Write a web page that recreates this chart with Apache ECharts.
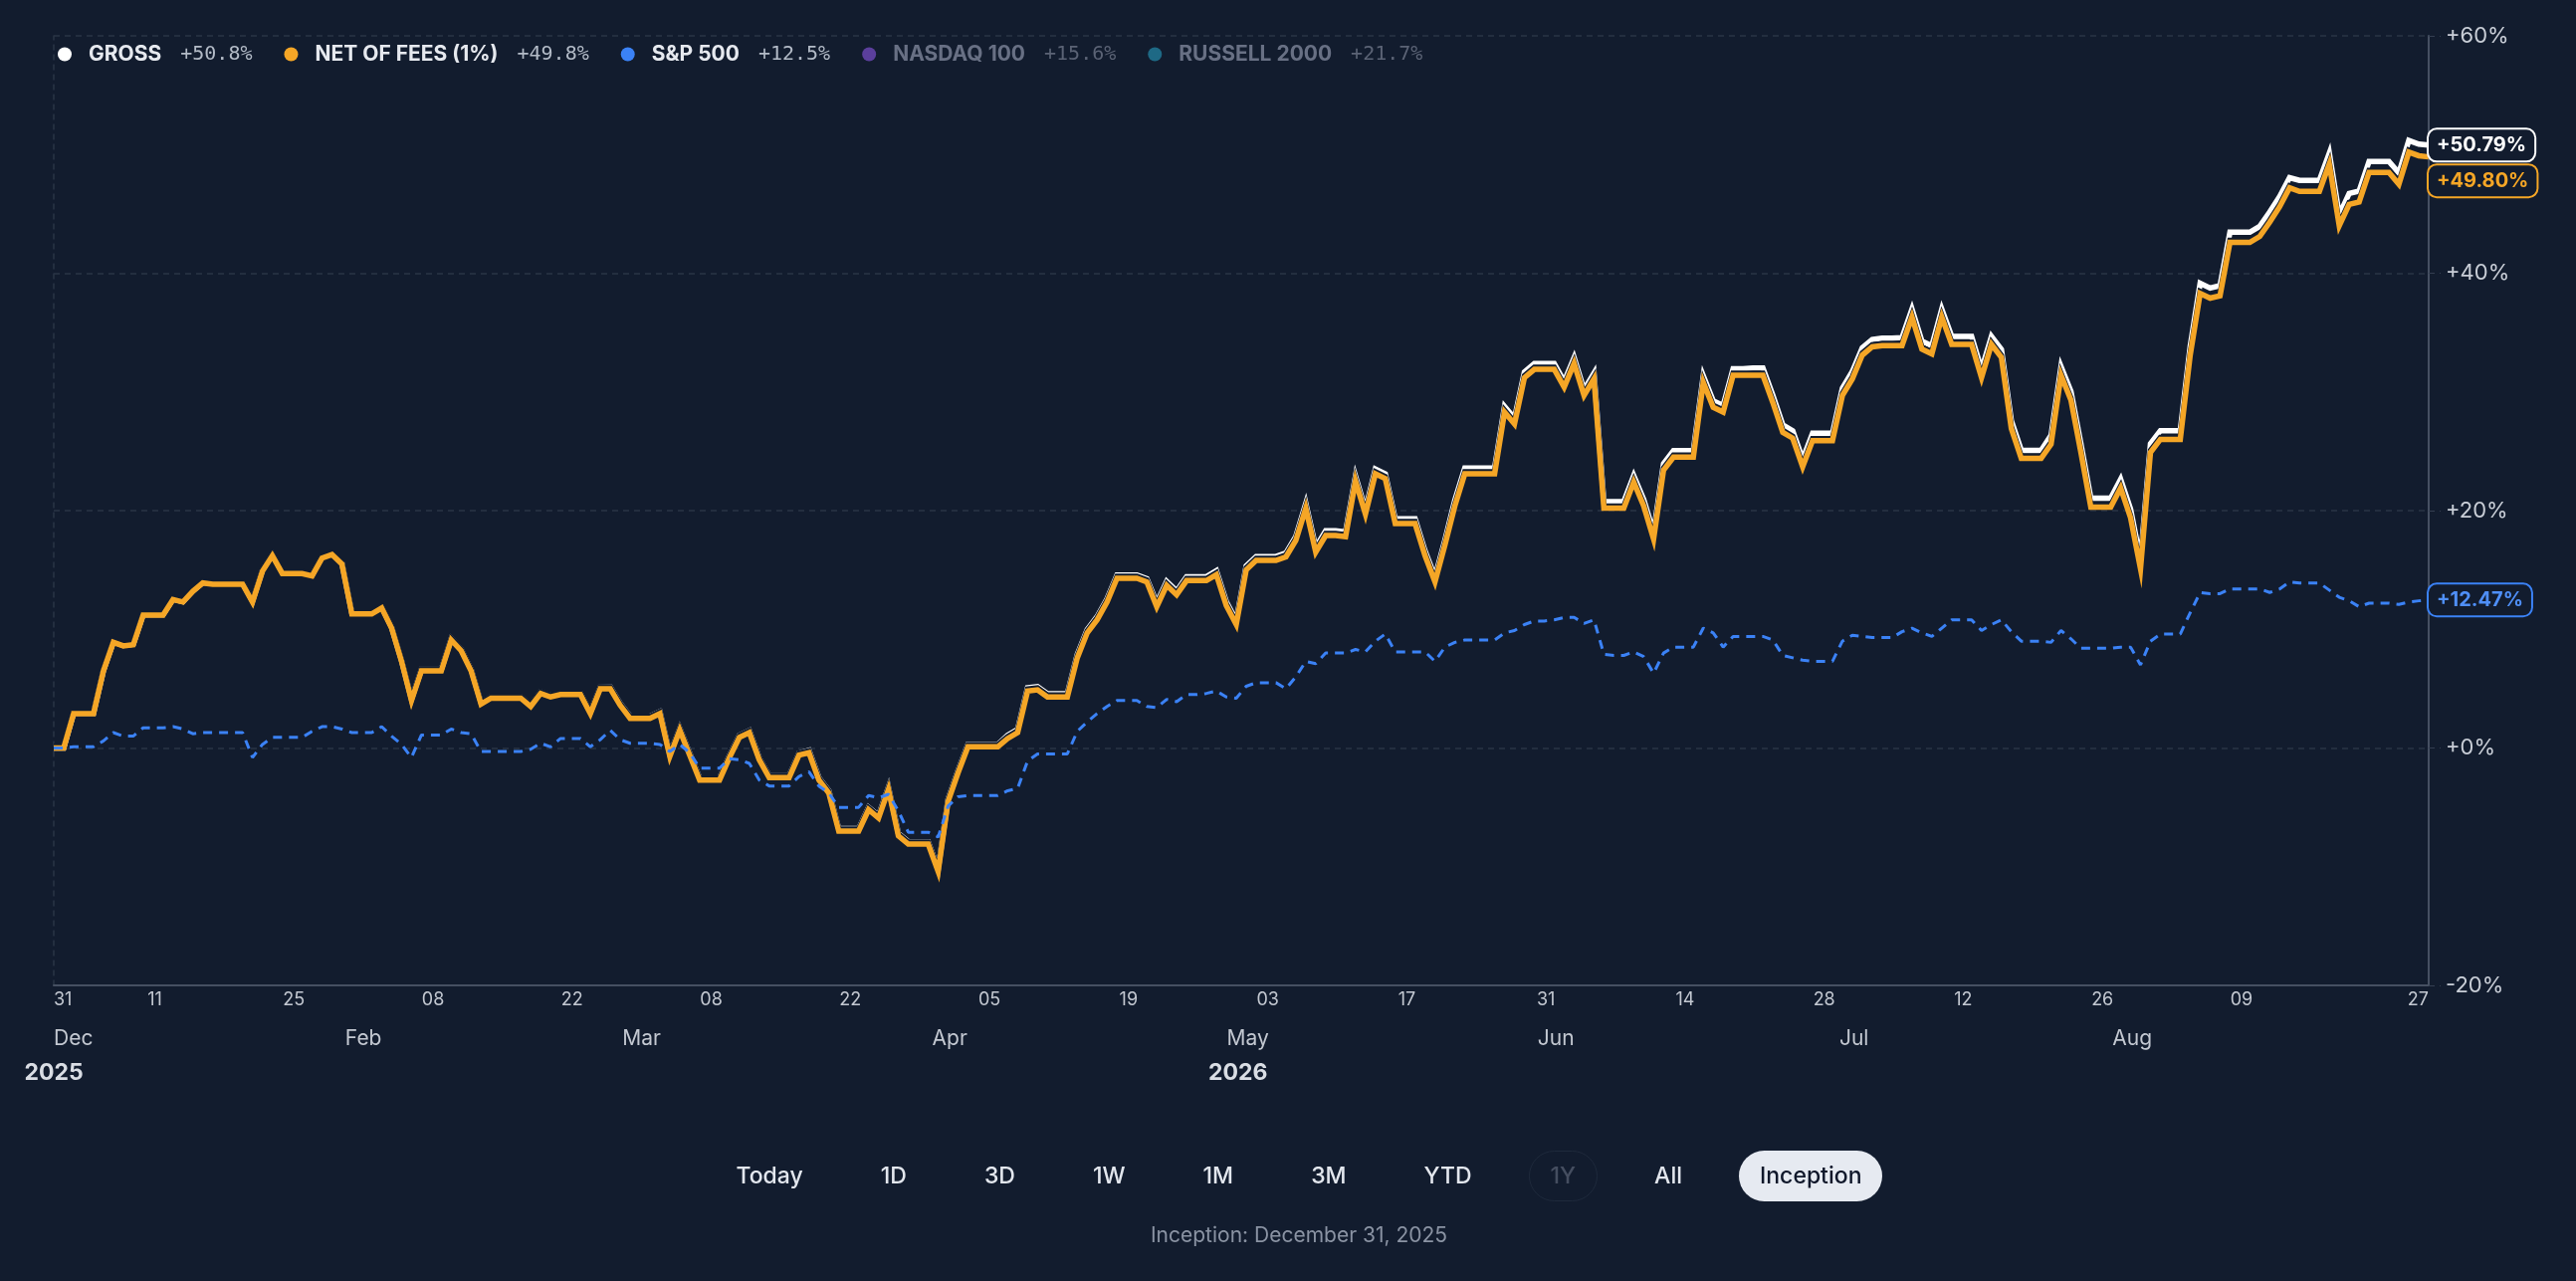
<!DOCTYPE html>
<html>
<head>
<meta charset="utf-8">
<script src="https://cdn.jsdelivr.net/npm/echarts/dist/echarts.min.js"></script>
<style>
html, body { margin: 0; padding: 0; background: #121c2e; }
#container { width: 2588px; height: 1287px; }
#ranges {
    position: absolute; top: 1156px; left: 0; width: 2610px;
    display: flex; justify-content: center; gap: 36px;
    font-family: Inter, "Noto Sans", sans-serif;
}
.btn {
    height: 51px; line-height: 51px; padding: 0 21px; border-radius: 26px;
    font-size: 23px; font-weight: 500; color: #e3e7ee; box-sizing: border-box;
}
.btn.off { color: #454e60; border: 1.5px solid #1f2a3c; line-height: 48px; }
.btn.on { background: #e6eaf1; color: #0f172a; }
#caption {
    position: absolute; top: 1228px; left: 0; width: 2610px; text-align: center;
    font-family: Inter, "Noto Sans", sans-serif; font-size: 21px; color: #8a93a3;
}
</style>
</head>
<body>
<div id="container"></div>
<div id="ranges"></div>
<div id="caption">Inception: December 31, 2025</div>
<script>
// daily values from 2025-12-31 (weekends / holidays carry the last close)
var gross = [
    0, 0, 2.94, 2.94, 2.94, 6.54, 8.94, 8.64, 8.74, 11.24,
    11.24, 11.24, 12.54, 12.34, 13.24, 13.94, 13.88, 13.88, 13.88, 13.88,
    12.38, 14.98, 16.28, 14.78, 14.78, 14.78, 14.58, 16.08, 16.38, 15.58,
    11.38, 11.38, 11.38, 11.88, 10.18, 7.38, 4.12, 6.62, 6.62, 6.62,
    9.22, 8.32, 6.62, 3.82, 4.32, 4.32, 4.32, 4.32, 3.62, 4.72,
    4.42, 4.62, 4.62, 4.62, 3.02, 5.12, 5.16, 3.76, 2.66, 2.66,
    2.66, 3.06, -0.54, 1.66, -0.44, -2.54, -2.54, -2.54, -0.64, 1.06,
    1.46, -0.84, -2.34, -2.34, -2.34, -0.44, -0.2, -2.5, -3.6, -6.8,
    -6.8, -6.8, -5.0, -5.7, -3.3, -7.2, -7.9, -7.9, -7.9, -10.2,
    -4.3, -1.9, 0.3, 0.3, 0.3, 0.3, 1.07, 1.57, 5.07, 5.17,
    4.57, 4.57, 4.57, 7.87, 9.97, 11.07, 12.57, 14.57, 14.57, 14.57,
    14.27, 12.23, 14.03, 13.23, 14.43, 14.43, 14.43, 14.93, 12.33, 10.73,
    15.33, 16.13, 16.13, 16.13, 16.43, 17.83, 20.6, 16.9, 18.3, 18.3,
    18.2, 22.9, 20.1, 23.5, 23.1, 19.3, 19.3, 19.3, 16.6, 14.4,
    17.5, 20.88, 23.58, 23.58, 23.58, 23.58, 28.78, 27.78, 31.68, 32.38,
    32.38, 32.38, 30.88, 32.88, 30.18, 31.58, 20.75, 20.75, 20.75, 22.95,
    20.95, 18.15, 23.95, 25.05, 25.05, 25.05, 31.35, 29.25, 28.85, 31.95,
    31.95, 32.02, 32.02, 29.72, 27.22, 26.72, 24.32, 26.52, 26.52, 26.52,
    30.32, 31.72, 33.72, 34.42, 34.52, 34.52, 34.58, 36.98, 34.28, 33.88,
    36.98, 34.68, 34.68, 34.68, 31.88, 34.68, 33.58, 27.58, 25.08, 25.08,
    25.08, 26.34, 32.14, 30.04, 25.64, 21.04, 21.04, 21.04, 22.64, 20.14,
    15.84, 25.64, 26.74, 26.74, 26.74, 33.84, 39.15, 38.75, 38.95, 43.45,
    43.45, 43.45, 43.95, 45.15, 46.45, 48.05, 47.82, 47.82, 47.82, 50.12,
    44.92, 46.72, 46.92, 49.42, 49.42, 49.42, 48.45, 51.18, 50.88, 50.79
];
var net = [
    0, 0, 2.9, 2.9, 2.9, 6.5, 8.9, 8.6, 8.7, 11.2,
    11.2, 11.2, 12.5, 12.3, 13.2, 13.9, 13.8, 13.8, 13.8, 13.8,
    12.3, 14.9, 16.2, 14.7, 14.7, 14.7, 14.5, 16.0, 16.3, 15.5,
    11.3, 11.3, 11.3, 11.8, 10.1, 7.3, 4.0, 6.5, 6.5, 6.5,
    9.1, 8.2, 6.5, 3.7, 4.2, 4.2, 4.2, 4.2, 3.5, 4.6,
    4.3, 4.5, 4.5, 4.5, 2.9, 5.0, 5.0, 3.6, 2.5, 2.5,
    2.5, 2.9, -0.7, 1.5, -0.6, -2.7, -2.7, -2.7, -0.8, 0.9,
    1.3, -1.0, -2.5, -2.5, -2.5, -0.6, -0.4, -2.7, -3.8, -7.0,
    -7.0, -7.0, -5.2, -5.9, -3.5, -7.4, -8.1, -8.1, -8.1, -10.4,
    -4.5, -2.1, 0.1, 0.1, 0.1, 0.1, 0.8, 1.3, 4.8, 4.9,
    4.3, 4.3, 4.3, 7.6, 9.7, 10.8, 12.3, 14.3, 14.3, 14.3,
    14.0, 11.9, 13.7, 12.9, 14.1, 14.1, 14.1, 14.6, 12.0, 10.4,
    15.0, 15.8, 15.8, 15.8, 16.1, 17.5, 20.2, 16.5, 17.9, 17.9,
    17.8, 22.5, 19.7, 23.1, 22.7, 18.9, 18.9, 18.9, 16.2, 14.0,
    17.1, 20.4, 23.1, 23.1, 23.1, 23.1, 28.3, 27.3, 31.2, 31.9,
    31.9, 31.9, 30.4, 32.4, 29.7, 31.1, 20.2, 20.2, 20.2, 22.4,
    20.4, 17.6, 23.4, 24.5, 24.5, 24.5, 30.8, 28.7, 28.3, 31.4,
    31.4, 31.4, 31.4, 29.1, 26.6, 26.1, 23.7, 25.9, 25.9, 25.9,
    29.7, 31.1, 33.1, 33.8, 33.9, 33.9, 33.9, 36.3, 33.6, 33.2,
    36.3, 34.0, 34.0, 34.0, 31.2, 34.0, 32.9, 26.9, 24.4, 24.4,
    24.4, 25.6, 31.4, 29.3, 24.9, 20.3, 20.3, 20.3, 21.9, 19.4,
    15.1, 24.9, 26.0, 26.0, 26.0, 33.1, 38.3, 37.9, 38.1, 42.6,
    42.6, 42.6, 43.1, 44.3, 45.6, 47.2, 46.9, 46.9, 46.9, 49.2,
    44.0, 45.8, 46.0, 48.5, 48.5, 48.5, 47.5, 50.2, 49.9, 49.80
];
var sp500 = [
    0, 0, 0.1, 0.1, 0.1, 0.6, 1.3, 1.0, 1.0, 1.7,
    1.7, 1.7, 1.8, 1.6, 1.2, 1.3, 1.3, 1.3, 1.3, 1.3,
    -0.8, 0.3, 0.9, 0.9, 0.9, 0.9, 1.4, 1.8, 1.8, 1.6,
    1.3, 1.3, 1.3, 1.8, 1.0, 0.3, -0.8, 1.1, 1.1, 1.1,
    1.6, 1.3, 1.2, -0.3, -0.3, -0.3, -0.3, -0.3, -0.1, 0.4,
    0.1, 0.8, 0.8, 0.8, 0.1, 0.7, 1.5, 0.7, 0.4, 0.4,
    0.4, 0.3, -0.3, 0.3, -0.4, -1.7, -1.7, -1.7, -0.9, -1.0,
    -1.3, -2.7, -3.2, -3.2, -3.2, -2.4, -2.0, -3.2, -3.8, -5.0,
    -5.0, -5.0, -4.0, -4.2, -3.9, -5.3, -7.1, -7.1, -7.1, -7.5,
    -4.9, -4.1, -4.0, -4.0, -4.0, -4.0, -3.6, -3.4, -1.1, -0.5,
    -0.5, -0.5, -0.5, 1.4, 2.2, 2.9, 3.5, 4.0, 4.0, 4.0,
    3.5, 3.4, 4.1, 3.9, 4.5, 4.5, 4.6, 4.8, 4.3, 4.2,
    5.2, 5.5, 5.5, 5.5, 5.0, 6.0, 7.3, 7.1, 8.0, 8.0,
    8.0, 8.3, 8.1, 9.0, 9.6, 8.1, 8.1, 8.1, 8.1, 7.3,
    8.5, 8.9, 9.1, 9.1, 9.1, 9.1, 9.7, 9.9, 10.4, 10.7,
    10.7, 10.8, 11.0, 11.0, 10.5, 10.8, 7.9, 7.8, 7.8, 8.1,
    7.7, 6.3, 8.0, 8.5, 8.5, 8.5, 10.1, 9.7, 8.5, 9.4,
    9.4, 9.4, 9.4, 9.1, 7.8, 7.6, 7.4, 7.3, 7.3, 7.3,
    9.0, 9.5, 9.4, 9.3, 9.3, 9.3, 9.8, 10.1, 9.7, 9.4,
    10.1, 10.8, 10.8, 10.8, 9.9, 10.4, 10.8, 9.8, 9.0, 9.0,
    9.0, 8.9, 9.9, 9.2, 8.4, 8.4, 8.4, 8.4, 8.5, 8.5,
    7.0, 9.0, 9.6, 9.6, 9.6, 11.4, 13.1, 13.0, 13.0, 13.4,
    13.4, 13.4, 13.4, 13.1, 13.4, 14.0, 13.9, 13.9, 13.9, 13.3,
    12.7, 12.4, 11.9, 12.2, 12.2, 12.2, 12.1, 12.3, 12.4, 12.47
];

var legendNames = ['GROSS', 'NET OF FEES (1%)', 'S&P 500', 'NASDAQ 100', 'RUSSELL 2000'];
var legendValues = ['+50.8%', '+49.8%', '+12.5%', '+15.6%', '+21.7%'];
var legendColors = ['#ffffff', '#f5a626', '#3b82f6', '#5b3f9c', '#1e6985'];
var hiddenSeries = ['NASDAQ 100', 'RUSSELL 2000'];

var dayTicks = ['2026-01-11', '2026-01-25', '2026-02-08', '2026-02-22', '2026-03-08', '2026-03-22',
    '2026-04-05', '2026-04-19', '2026-05-03', '2026-05-17', '2026-05-31', '2026-06-14',
    '2026-06-28', '2026-07-12', '2026-07-26', '2026-08-09'];
var monthTicks = ['2026-02-01', '2026-03-01', '2026-04-01', '2026-05-01', '2026-06-01', '2026-07-01', '2026-07-29'];
var monthLabels = ['Dec', 'Feb', 'Mar', 'Apr', 'May', 'Jun', 'Jul', 'Aug'];
var yearTicks = ['2026-04-30'];
var yearLabels = ['2025', '2026'];

var ranges = ['Today', '1D', '3D', '1W', '1M', '3M', 'YTD', '1Y', 'All', 'Inception'];

let box = document.getElementById('ranges');
ranges.forEach(r => {
    let el = document.createElement('div');
    el.className = 'btn' + (r == 'Inception' ? ' on' : '') + (r == '1Y' ? ' off' : '');
    el.textContent = r;
    box.appendChild(el);
});

const FONT = 'Inter, "Noto Sans", sans-serif';
const MONO = '"DejaVu Sans Mono", "Liberation Mono", monospace';
const BG = '#121c2e';

// closes are stamped at 20:00 UTC, x is a plain ms value axis
const START = Date.UTC(2025, 11, 31, 20);
const DAY = 86400000;
let times = gross.map((v, i) => START + i * DAY);
let tMin = times[0];
let tMax = times[times.length - 1];
let utc = s => Date.parse(s + 'T00:00:00Z');
let pair = arr => arr.map((v, i) => [times[i], v]);

let chart = echarts.init(document.getElementById('container'));

function bottomAxis(values, formatter, margin, style) {
    return {
        type: 'value',
        position: 'bottom',
        min: tMin,
        max: tMax,
        axisLine: {show: false, onZero: false},
        axisTick: {show: false},
        splitLine: {show: false},
        axisLabel: Object.assign({
            customValues: values,
            formatter: formatter,
            margin: margin,
            fontFamily: FONT,
            hideOverlap: false,
            showMinLabel: true,
            showMaxLabel: true,
        }, style),
    };
}

let monthValues = [tMin].concat(monthTicks.map(utc));
let yearValues = [tMin].concat(yearTicks.map(utc));

let xAxes = [
    bottomAxis([tMin].concat(dayTicks.map(utc), [tMax]),
        v => String(new Date(v).getUTCDate()).padStart(2, '0'), 6,
        {fontSize: 18, color: '#c3c8d1', alignMinLabel: 'left', alignMaxLabel: 'right'}),
    bottomAxis(monthValues,
        v => monthLabels[monthValues.indexOf(v)], 43,
        {fontSize: 21, color: '#c3c8d1', alignMinLabel: 'left'}),
    bottomAxis(yearValues,
        v => yearLabels[yearValues.indexOf(v)], 77,
        {fontSize: 23, fontWeight: 'bold', color: '#d9dde4'}),
];
xAxes[0].axisLine = {show: true, onZero: false, lineStyle: {color: '#465062', width: 2}};

function endLabel(color, textColor, offset) {
    return {
        show: true,
        distance: 0,
        offset: offset,
        formatter: p => '+' + p.value[1].toFixed(2) + '%',
        color: textColor,
        fontFamily: FONT,
        fontSize: 20,
        fontWeight: 'bold',
        lineHeight: 22,
        backgroundColor: BG,
        borderColor: color,
        borderWidth: 2,
        borderRadius: 8,
        padding: [5, 8, 4, 8],
    };
}

let option = {
    backgroundColor: BG,
    animation: false,
    grid: {left: 54, right: 148, top: 36, bottom: 297},
    legend: {
        left: 53,
        top: 39,
        icon: 'circle',
        itemWidth: 14,
        itemHeight: 14,
        itemGap: 32,
        selectedMode: false,
        data: legendNames.map((n, i) => ({name: n, itemStyle: {color: legendColors[i]}})),
        formatter: name => {
            let i = legendNames.indexOf(name);
            let dim = hiddenSeries.indexOf(name) >= 0;
            return '{s|}{' + (dim ? 'nd' : 'n') + '|' + name + '}{g|}{' + (dim ? 'vd' : 'v') + '|' + legendValues[i] + '}';
        },
        textStyle: {
            rich: {
                s: {width: 12},
                g: {width: 19},
                n: {fontFamily: FONT, fontSize: 21, fontWeight: 'bold', color: '#e6e9ef'},
                nd: {fontFamily: FONT, fontSize: 21, fontWeight: 'bold', color: '#687084'},
                v: {fontFamily: MONO, fontSize: 20, color: '#b3bbc7'},
                vd: {fontFamily: MONO, fontSize: 20, color: '#5b6375'},
            },
        },
    },
    xAxis: xAxes,
    yAxis: [{
        type: 'value',
        position: 'right',
        min: -20,
        max: 60,
        interval: 20,
        axisLine: {show: true, lineStyle: {color: '#465062', width: 2}},
        axisTick: {show: true, length: 12, lineStyle: {color: '#343e51', type: [6, 5]}},
        axisLabel: {
            color: '#c9ced7',
            fontSize: 22,
            fontFamily: FONT,
            margin: 17,
            formatter: v => (v >= 0 ? '+' : '') + v + '%',
        },
        splitLine: {show: true, lineStyle: {color: '#2a3446', type: [6, 5], width: 1.5}},
    }, {
        type: 'value',
        position: 'left',
        min: -20,
        max: 60,
        interval: 20,
        axisLine: {show: true, lineStyle: {color: '#2a3446', type: [5, 5], width: 1.5}},
        axisTick: {show: false},
        axisLabel: {show: false},
        splitLine: {show: false},
    }],
    series: [{
        name: 'GROSS',
        type: 'line',
        symbol: 'none',
        data: pair(gross),
        itemStyle: {color: '#ffffff'},
        lineStyle: {color: '#ffffff', width: 5.5, join: 'miter'},
        endLabel: endLabel('#ffffff', '#ffffff', [0, 0]),
    }, {
        name: 'NET OF FEES (1%)',
        type: 'line',
        symbol: 'none',
        data: pair(net),
        itemStyle: {color: '#f5a626'},
        lineStyle: {
            color: '#f5a626', width: 5.5, join: 'miter',
            shadowColor: BG, shadowBlur: 0, shadowOffsetY: -2,
        },
        endLabel: endLabel('#f5a626', '#f5a626', [0, 24]),
    }, {
        name: 'S&P 500',
        type: 'line',
        symbol: 'none',
        data: pair(sp500),
        itemStyle: {color: '#3b82f6'},
        lineStyle: {color: '#3b82f6', width: 3, type: [9, 7]},
        endLabel: endLabel('#3b82f6', '#4f8ff7', [0, 0]),
    }, {
        name: 'NASDAQ 100',
        type: 'line',
        data: [],
        itemStyle: {color: legendColors[3]},
    }, {
        name: 'RUSSELL 2000',
        type: 'line',
        data: [],
        itemStyle: {color: legendColors[4]},
    }],
};
chart.setOption(option);
</script>
</body>
</html>
